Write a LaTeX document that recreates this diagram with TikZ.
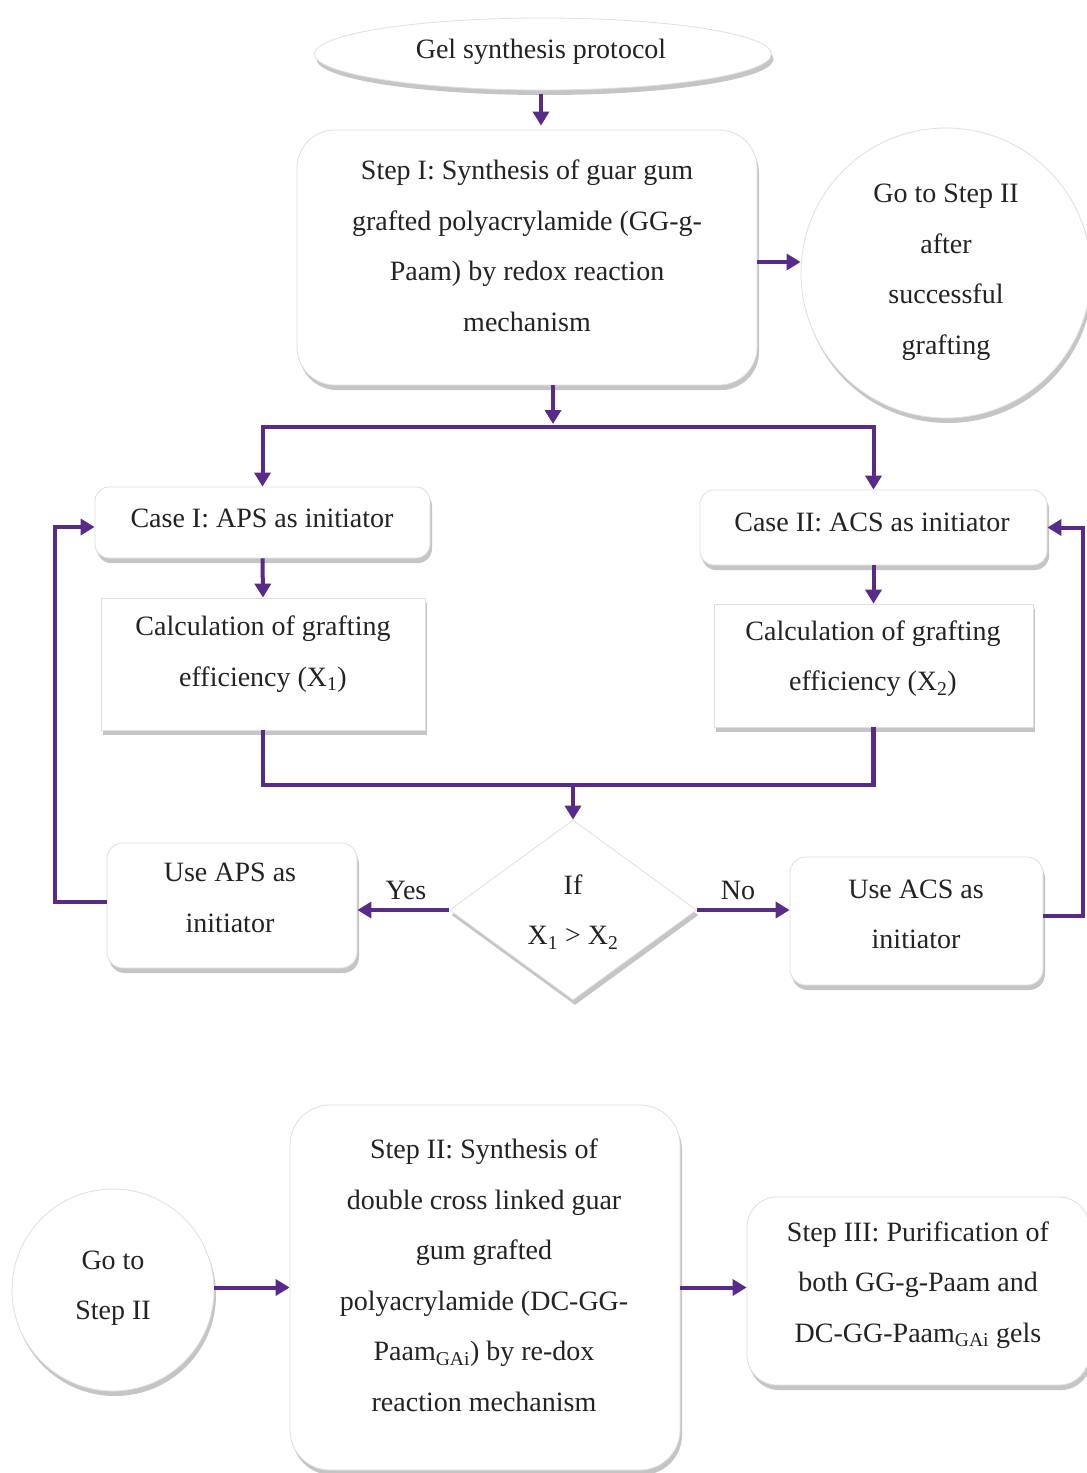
\documentclass[tikz,border=0pt]{standalone}
\usepackage{fontspec}
\setmainfont{Liberation Serif}
\usetikzlibrary{shapes.geometric,shadows,arrows.meta,calc}
\definecolor{pur}{RGB}{88,42,138}
\definecolor{txtc}{RGB}{35,35,35}
\begin{document}
\begin{tikzpicture}[x=1pt,y=-1pt,
  box/.style={draw=gray!25, fill=white, line width=0.8pt,
    drop shadow={shadow xshift=2pt, shadow yshift=-5pt, fill=gray!75, opacity=0.6}},
  rbox/.style={box, rounded corners=14pt},
  bigbox/.style={box, rounded corners=38pt},
  sqbox/.style={box},
  txt/.style={align=center, text=txtc, font=\fontsize{28}{50.5}\selectfont, inner sep=0pt},
  arr/.style={draw=pur, line width=4pt, -{Triangle[length=14pt,width=16pt]}},
  ln/.style={draw=pur, line width=4.5pt},
]
\useasboundingbox (0,0) rectangle (1087,1473);
\fill[white] (0,0) rectangle (1087,1473);
\clip (0,0) rectangle (1087,1473);

% top ellipse
\node[box, ellipse, minimum width=457pt, minimum height=72pt, inner sep=0pt] (ell) at (543,54) {};
\node[txt] (ellt) at (541,52) {Gel synthesis protocol};

% Step I
\node[bigbox, minimum width=460pt, minimum height=255pt] (s1) at (527,257.5) {};
\node[txt] (s1t) at (527,246) {Step I: Synthesis of guar gum\\grafted polyacrylamide (GG-g-\\Paam) by redox reaction\\mechanism};

% Go to step II circle
\node[box, circle, minimum size=290pt, inner sep=0pt] (go1) at (946,273) {};
\node[txt] (go1t) at (946,272) {Go to Step II\\after\\successful\\grafting};

% cases
\node[rbox, minimum width=335pt, minimum height=71pt] (c1) at (262.5,522.5) {};
\node[txt] (c1t) at (262,518) {Case I: APS as initiator};
\node[rbox, minimum width=347pt, minimum height=75pt] (c2) at (873.5,527.5) {};
\node[txt] (c2t) at (872,522) {Case II: ACS as initiator};

% calculations
\node[sqbox, minimum width=324pt, minimum height=132pt] (k1) at (263,664) {};
\node[txt] (k1t) at (263,654) {Calculation of grafting\\efficiency (X\textsubscript{1})};
\node[sqbox, minimum width=319pt, minimum height=123pt] (k2) at (873.5,665.5) {};
\node[txt] (k2t) at (873,658.5) {Calculation of grafting\\efficiency (X\textsubscript{2})};

% decision
\node[box, diamond, minimum width=247pt, minimum height=180pt, aspect=1.37, inner sep=0pt] (d) at (573,910) {};
\node[txt] (dt) at (573,912) {If\\X\textsubscript{1} > X\textsubscript{2}};

% use boxes
\node[rbox, rounded corners=16pt, minimum width=250pt, minimum height=125pt] (ua) at (232,905.5) {};
\node[txt] (uat) at (230,898) {Use APS as\\initiator};
\node[rbox, rounded corners=16pt, minimum width=253pt, minimum height=128pt] (uc) at (916.5,921) {};
\node[txt] (uct) at (916,914.5) {Use ACS as\\initiator};

% bottom row
\node[box, circle, minimum size=202pt, inner sep=0pt] (g2) at (113,1290) {};
\node[txt] (g2t) at (113,1288) {Go to\\Step II};
\node[bigbox, rounded corners=40pt, minimum width=390pt, minimum height=365pt] (s2) at (485,1287.5) {};
\node[txt] (s2t) at (484,1275.5) {Step II: Synthesis of\\double cross linked guar\\gum grafted\\polyacrylamide (DC-GG-\\Paam\textsubscript{GAi}) by re-dox\\reaction mechanism};
\node[rbox, rounded corners=30pt, minimum width=342pt, minimum height=188pt] (s3) at (918,1291) {};
\node[txt] (s3t) at (918,1285) {Step III: Purification of\\both GG-g-Paam and\\DC-GG-Paam\textsubscript{GAi} gels};

% connectors
\coordinate (J1) at (553,427);
\coordinate (J2) at (573,785);
\draw[arr, shorten >=2pt] (ell.south -| s1.north) ++(14,4) -- ([xshift=14pt,yshift=2pt]s1.north);
\draw[arr] ([yshift=-4.5pt]s1.east) -- ([yshift=-4.5pt]s1.east -| go1.west);
\draw[arr, shorten >=3pt] (s1.south -| J1) -- (J1);
\draw[arr] (J1) -| (c1.north);
\draw[arr] (J1) -| (c2.north);
\draw[arr] (c1.south) -- (k1.north);
\draw[arr] (c2.south) -- (k2.north);
\draw[ln] (k1.south) |- (J2) -| (k2.south);
\draw[arr] (J2) -- (d.north);
\draw[arr] (d.west) -- (d.west -| ua.east);
\draw[arr] (d.east) -- (d.east -| uc.west);
\node[txt] (yes) at (406,890) {Yes};
\node[txt] (no) at (738,890) {No};
\draw[arr] ([yshift=3.5pt]ua.west) -- ++(-52,0) |- ([yshift=-4.5pt]c1.west);
\draw[arr] ([yshift=5pt]uc.east) -- ++(40,0) |- (c2.east);
\draw[arr] ([yshift=2.5pt]g2.east) -- ([yshift=2.5pt]g2.east -| s2.west);
\draw[arr] (s2.east) -- (s2.east -| s3.west);
\end{tikzpicture}
\end{document}
